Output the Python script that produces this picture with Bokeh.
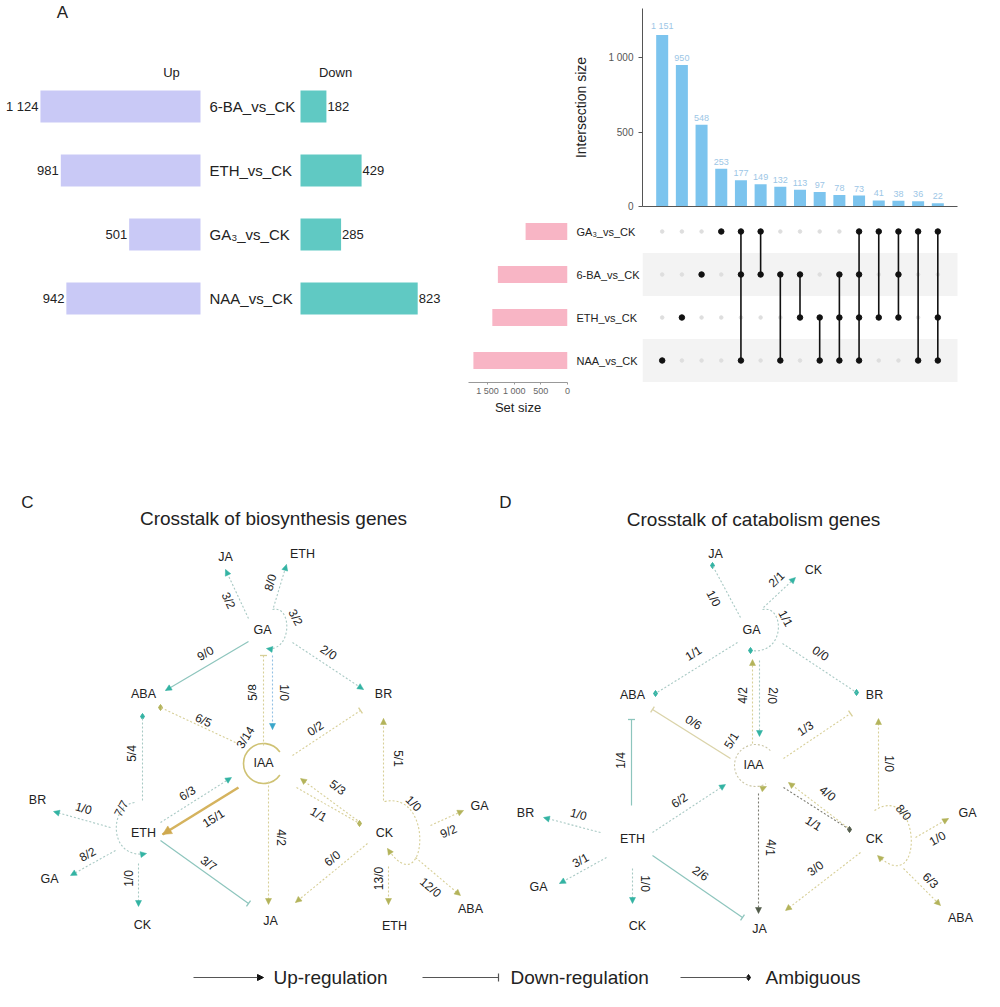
import math
from bokeh.plotting import figure
from bokeh.models import Range1d, FixedTicker, Label, Arrow, NormalHead, TeeHead, ColumnDataSource
from bokeh.layouts import row, column
from bokeh.embed import file_html
from bokeh.resources import INLINE
from bokeh.core.properties import value

FONT = "Liberation Sans"

# ---------------- Panel A data ----------------
comparisons = ["6-BA_vs_CK", "ETH_vs_CK", "GA\u2083_vs_CK", "NAA_vs_CK"]
up_counts = [1124, 981, 501, 942]
down_counts = [182, 429, 285, 823]

# ---------------- Panel B data ----------------
intersection_sizes = [1151, 950, 548, 253, 177, 149, 132, 113, 97, 78, 73, 41, 38, 36, 22]
set_names = ["GA\u2083_vs_CK", "6-BA_vs_CK", "ETH_vs_CK", "NAA_vs_CK"]
set_sizes = [786, 1306, 1410, 1765]
# membership of each intersection (indices into set_names)
intersection_members = [[3], [2], [1], [0], [0, 1, 3], [0, 1], [1, 3], [1, 2], [2, 3],
                        [1, 2, 3], [0, 1, 2, 3], [0, 2], [0, 1, 2], [0, 3], [0, 2, 3]]
isize_ticks = [0, 500, 1000]
setsize_ticks = [0, 500, 1000, 1500]


def fmt(v):
    return f"{v:,}".replace(",", " ")


def base_fig(**kw):
    p = figure(toolbar_location=None, output_backend="svg", **kw)
    p.outline_line_color = None
    p.grid.visible = False
    return p


TXT = dict(text_font=value(FONT), text_color="#222222")

# ================= Panel A =================
PXA = 0.1424
pA = base_fig(width=460, height=430, x_range=Range1d(-200 / PXA, 260 / PXA),
              y_range=Range1d((430 - 106) / 64, (0 - 106) / 64),
              x_axis_location=None, y_axis_location=None, min_border=0)
pA.extra_x_ranges = {"down": Range1d(-300 / PXA, 160 / PXA)}
srcA = ColumnDataSource(dict(
    y=list(range(len(comparisons))),
    up_left=[-v for v in up_counts],
    down=down_counts,
    up_txt=[fmt(v) for v in up_counts],
    down_txt=[fmt(v) for v in down_counts],
    name=comparisons))
pA.hbar(y="y", left="up_left", right=0, height=0.5, source=srcA,
        fill_color="#c9c9f6", line_color=None)
pA.hbar(y="y", left=0, right="down", height=0.5, source=srcA, x_range_name="down",
        fill_color="#60c9c3", line_color=None)
pA.text(x="up_left", y="y", text="up_txt", source=srcA, x_offset=-2, text_align="right",
        text_baseline="middle", text_font_size="13px", **TXT)
pA.text(x="down", y="y", text="down_txt", source=srcA, x_range_name="down", x_offset=1,
        text_align="left", text_baseline="middle", text_font_size="13px", **TXT)
pA.text(x=0, y="y", text="name", source=srcA, x_offset=9, text_align="left",
        text_baseline="middle", text_font_size="15px", **TXT)
for t, sx, sy, fs in [("A", 62, 418, "17px"), ("Up", 171, 358, "13px"), ("Down", 335, 358, "13px")]:
    pA.add_layout(Label(x=sx, y=sy, x_units="screen", y_units="screen", text=t,
                        text_font=FONT, text_font_size=fs, text_color="#222222",
                        text_align="center", text_baseline="middle"))

# ================= Panel B: intersection bars =================
cols = list(range(1, len(intersection_sizes) + 1))
pBt = base_fig(width=532, height=214, x_range=Range1d(0, len(cols) + 1), y_range=Range1d(0, 1329),
               min_border_left=182, min_border_right=35, min_border_top=8, min_border_bottom=8)
pBt.vbar(x=cols, top=intersection_sizes, width=0.61, fill_color="#7cc4ee", line_color=None)
pBt.text(x=cols, y=intersection_sizes, text=[fmt(v) for v in intersection_sizes], y_offset=-4,
         text_align="center", text_baseline="bottom", text_font_size="9px",
         text_font=value(FONT), text_color="#9cc6e6")
ya = pBt.yaxis[0]
ya.ticker = FixedTicker(ticks=isize_ticks)
ya.major_label_overrides = {t: fmt(t) for t in isize_ticks}
ya.minor_tick_line_color = None
ya.major_tick_out = 4
ya.major_tick_in = 0
ya.major_label_standoff = 5
ya.major_label_text_font = FONT
ya.major_label_text_font_size = "10px"
ya.major_label_text_color = "#555555"
ya.axis_line_color = "#555555"
ya.major_tick_line_color = "#555555"
ya.axis_label = "Intersection size"
ya.axis_label_text_font = FONT
ya.axis_label_text_font_style = "normal"
ya.axis_label_text_font_size = "14px"
ya.axis_label_text_color = "#222222"
ya.axis_label_standoff = 16
xa = pBt.xaxis[0]
xa.ticker = FixedTicker(ticks=[])
xa.major_tick_out = 0
xa.major_tick_in = 0
xa.minor_tick_line_color = None
xa.major_label_standoff = 0
xa.axis_line_color = "#555555"
pBt.add_layout(Label(x=-154, y=194, x_units="screen", y_units="screen", text="B",
                     text_font=FONT, text_font_size="17px", text_color="#222222",
                     text_align="center", text_baseline="middle"))

# ================= Panel B: set sizes =================
rowsB = list(range(len(set_names)))
yr_top, yr_bot = (214 - 231) / 43, (382 - 231) / 43
pBs = base_fig(width=182, height=216, x_range=Range1d(1857, 0), y_range=Range1d(yr_bot, yr_top),
               x_axis_location="below", y_axis_location="right",
               min_border_left=8, min_border_right=70, min_border_top=0, min_border_bottom=48)
pBs.hbar(y=rowsB, left=0, right=set_sizes, height=0.4, fill_color="#f8b5c5", line_color=None)
sa = pBs.xaxis[0]
sa.ticker = FixedTicker(ticks=setsize_ticks)
sa.major_label_overrides = {t: fmt(t) for t in setsize_ticks}
sa.minor_tick_line_color = None
sa.major_tick_out = 2
sa.major_tick_in = 0
sa.major_label_standoff = 1
sa.major_label_text_font = FONT
sa.major_label_text_font_size = "9px"
sa.major_label_text_color = "#666666"
sa.axis_line_color = "#999999"
sa.major_tick_line_color = "#999999"
sa.axis_label = "Set size"
sa.axis_label_text_font = FONT
sa.axis_label_text_font_style = "normal"
sa.axis_label_text_font_size = "13px"
sa.axis_label_text_color = "#222222"
sa.axis_label_standoff = 1
ra = pBs.yaxis[0]
ra.ticker = FixedTicker(ticks=rowsB)
ra.major_label_overrides = {i: n for i, n in enumerate(set_names)}
ra.axis_line_color = None
ra.major_tick_line_color = None
ra.minor_tick_line_color = None
ra.major_label_standoff = 3
ra.major_label_text_font = FONT
ra.major_label_text_font_size = "11px"
ra.major_label_text_color = "#222222"

# ================= Panel B: matrix =================
pBm = base_fig(width=350, height=216, x_range=Range1d(0, 350 / (315 / 16)),
               y_range=Range1d(yr_bot, yr_top), x_axis_location=None, y_axis_location=None,
               min_border_left=0, min_border_right=0, min_border_top=0, min_border_bottom=48)
pBm.hbar(y=[r for r in rowsB if r % 2 == 1], left=0, right=len(cols) + 1, height=1.0,
         fill_color="#f3f3f3", line_color=None)
pBm.scatter(x=[c for c in cols for r in rowsB], y=[r for c in cols for r in rowsB],
            size=3.5, color="#dedede")
mx, my, s_x, s_y0, s_y1 = [], [], [], [], []
for c, mem in zip(cols, intersection_members):
    for r in mem:
        mx.append(c)
        my.append(r)
    if len(mem) > 1:
        s_x.append(c)
        s_y0.append(min(mem))
        s_y1.append(max(mem))
pBm.segment(x0=s_x, y0=s_y0, x1=s_x, y1=s_y1, line_color="#111111", line_width=1.6)
pBm.scatter(x=mx, y=my, size=5.5, color="#111111")

# ================= Panels C & D: crosstalk networks =================
def Y(y):
    return 1007 - y


pN = base_fig(width=992, height=569, x_range=Range1d(0, 992), y_range=Range1d(8, 577),
              x_axis_location=None, y_axis_location=None, min_border=0)

STY = {
    "teal_dot": ("#a8c9c4", "#33b3a3", "2 2", 1.1),
    "teal_solid": ("#8dc5bd", "#33b3a3", "solid", 1.2),
    "tan_dot": ("#d7cf97", "#b3b35a", "2 2", 1.1),
    "tan_solid": ("#dad3a8", "#b3b35a", "solid", 1.3),
    "gold_thick": ("#d5b35e", "#cfa94f", "solid", 2.6),
    "blue_dot": ("#93c1e4", "#3aa6ca", "2 2", 1.1),
    "dark_dot": ("#7c7c72", "#515b49", "2 2", 1.1),
}

# regulation counts "up/down" on each edge (label text), endpoints are diagram layout
edges_C = [
    (248, 618, 225, 569, "arrow", "teal_dot", "3/2", 228, 600),
    (273, 607, 286, 564, "arrow", "teal_dot", "8/0", 270, 582),
    (248, 641, 165, 690, "arrow", "teal_solid", "9/0", 205, 653),
    (292, 642, 363, 689, "arrow", "teal_dot", "2/0", 328, 652),
    (263, 745, 263, 655, "tee", "tan_dot", "5/8", 252, 692),
    (272, 655, 272, 729, "arrow", "blue_dot", "1/0", 283, 692),
    (235, 742, 160, 707, "amb", "tan_dot", "6/5", 203, 720),
    (292, 755, 360, 710, "tee", "tan_dot", "0/2", 315, 728),
    (383, 800, 383, 718, "arrow", "tan_dot", "5/1", 397, 758),
    (142, 800, 142, 716, "amb", "teal_dot", "5/4", 131, 753),
    (110, 827, 53, 811, "arrow", "teal_dot", "1/0", 83, 808),
    (115, 850, 70, 875, "arrow", "teal_dot", "8/2", 87, 854),
    (138, 863, 138, 906, "arrow", "teal_dot", "1/0", 128, 878),
    (160, 822, 231, 777, "arrow", "teal_dot", "6/3", 187, 793),
    (238, 787, 162, 834, "arrow", "gold_thick", "15/1", 213, 818),
    (160, 840, 248, 903, "tee", "teal_solid", "3/7", 208, 863),
    (268, 781, 268, 904, "arrow", "tan_dot", "4/2", 280, 837),
    (357, 820, 300, 778, "arrow", "tan_dot", "5/3", 337, 787),
    (296, 787, 359, 823, "amb", "tan_dot", "1/1", 318, 814),
    (367, 843, 295, 902, "arrow", "tan_dot", "6/0", 332, 858),
    (430, 825, 463, 810, "arrow", "tan_dot", "9/2", 448, 831),
    (388, 866, 388, 904, "arrow", "tan_dot", "13/0", 378, 878),
    (415, 857, 460, 895, "arrow", "tan_dot", "12/0", 430, 887),
]
loops_C = [
    (272, 609, 292, 604, 292, 652, 266, 648, "arrow", "teal_dot", "3/2", 295, 617, -62),
    (134, 802, 108, 805, 108, 860, 146, 853, "arrow", "teal_dot", "7/7", 121, 808, 62),
    (384, 801, 436, 790, 425, 905, 387, 848, "arrow", "tan_dot", "1/0", 413, 803, -45),
]
nodes_C = [("GA", 262, 629), ("JA", 225, 556), ("ETH", 302, 553), ("ABA", 143, 693),
           ("BR", 383, 693), ("IAA", 263, 762), ("ETH", 143, 832), ("BR", 37, 799),
           ("GA", 49, 878), ("CK", 142, 924), ("JA", 270, 920), ("CK", 384, 832),
           ("GA", 479, 805), ("ETH", 394, 925), ("ABA", 470, 908)]

edges_D = [
    (740, 617, 712, 565, "amb", "teal_dot", "1/0", 713, 598),
    (763, 607, 795, 577, "arrow", "teal_dot", "2/1", 776, 579),
    (737, 642, 655, 693, "amb", "teal_dot", "1/1", 693, 653),
    (782, 643, 856, 692, "amb", "teal_dot", "0/0", 820, 653),
    (752, 743, 752, 659, "arrow", "tan_dot", "4/2", 742, 695),
    (759, 660, 759, 736, "arrow", "teal_dot", "2/0", 772, 695),
    (730, 758, 652, 709, "tee", "tan_solid", "0/6", 693, 722),
    (783, 758, 850, 713, "tee", "tan_dot", "1/3", 805, 728),
    (878, 805, 878, 718, "arrow", "tan_dot", "1/0", 888, 763),
    (631, 805, 631, 719, "tee", "teal_solid", "1/4", 620, 760),
    (600, 832, 543, 817, "arrow", "teal_dot", "1/0", 578, 814),
    (606, 857, 559, 883, "arrow", "teal_dot", "3/1", 580, 860),
    (632, 868, 632, 903, "arrow", "teal_dot", "1/0", 644, 883),
    (652, 832, 725, 784, "arrow", "teal_dot", "6/2", 679, 800),
    (652, 855, 742, 917, "tee", "teal_solid", "2/6", 700, 873),
    (758, 793, 758, 913, "arrow", "dark_dot", "4/1", 770, 847),
    (847, 827, 788, 782, "arrow", "tan_dot", "4/0", 827, 793),
    (783, 787, 849, 829, "amb", "dark_dot", "1/1", 813, 823),
    (860, 852, 785, 910, "arrow", "tan_dot", "3/0", 815, 868),
    (915, 837, 948, 818, "arrow", "tan_dot", "1/0", 937, 838),
    (903, 868, 940, 905, "arrow", "tan_dot", "6/3", 930, 880),
]
loops_D = [
    (762, 609, 784, 604, 786, 655, 750, 650, "amb", "teal_dot", "1/1", 785, 618, -62),
    (874, 810, 920, 780, 925, 900, 877, 855, "arrow", "tan_dot", "8/0", 903, 812, -50),
]
nodes_D = [("GA", 751, 629), ("JA", 715, 553), ("CK", 813, 569), ("ABA", 632, 694),
           ("BR", 874, 694), ("IAA", 753, 764), ("ETH", 632, 838), ("BR", 525, 812),
           ("GA", 538, 886), ("CK", 637, 925), ("JA", 759, 928), ("CK", 874, 838),
           ("GA", 967, 812), ("ABA", 960, 917)]

lab_x, lab_y, lab_t, lab_a = [], [], [], []


def add_end(kind, sx, sy, ex, ey, lc, hc, width, line=True):
    if kind == "arrow":
        head = NormalHead(size=9 if width > 2 else 6, fill_color=hc, line_color=hc, line_width=0.5)
    elif kind == "tee":
        head = TeeHead(size=7, line_color=lc, line_width=1.3)
    else:
        head = None
    pN.add_layout(Arrow(x_start=sx, y_start=Y(sy), x_end=ex, y_end=Y(ey), end=head,
                        line_color=lc if line else None, line_width=width,
                        line_dash="solid"))
    if kind == "amb":
        pN.scatter(x=[ex], y=[Y(ey)], marker="diamond", size=6, color=hc)


def edge_angle(x1, y1, x2, y2, lx):
    dx, dy = x2 - x1, Y(y2) - Y(y1)
    if abs(dx) < 1.5:
        return 90.0 if lx < x1 else -90.0
    a = math.degrees(math.atan2(dy, dx))
    while a > 90:
        a -= 180
    while a <= -90:
        a += 180
    return a


for edges in (edges_C, edges_D):
    for (x1, y1, x2, y2, kind, sty, lab, lx, ly) in edges:
        lc, hc, dash, w = STY[sty]
        pN.add_layout(Arrow(x_start=x1, y_start=Y(y1), x_end=x2, y_end=Y(y2), end=None,
                            line_color=lc, line_width=w, line_dash=dash))
        add_end(kind, x1, y1, x2, y2, lc, hc, w, line=False)
        lab_x.append(lx)
        lab_y.append(Y(ly))
        lab_t.append(lab)
        lab_a.append(math.radians(edge_angle(x1, y1, x2, y2, lx)))

for loops in (loops_C, loops_D):
    for (x0, y0, c0x, c0y, c1x, c1y, x1, y1, kind, sty, lab, lx, ly, ang) in loops:
        lc, hc, dash, w = STY[sty]
        pN.bezier(x0=[x0], y0=[Y(y0)], x1=[x1], y1=[Y(y1)], cx0=[c0x], cy0=[Y(c0y)],
                  cx1=[c1x], cy1=[Y(c1y)], line_color=lc, line_width=w, line_dash=dash)
        add_end(kind, c1x, c1y, x1, y1, lc, hc, w, line=False)
        lab_x.append(lx)
        lab_y.append(Y(ly))
        lab_t.append(lab)
        lab_a.append(math.radians(ang))

# IAA self-loops
pN.arc(x=[263], y=[Y(763)], radius=20, start_angle=math.radians(35), end_angle=math.radians(325),
       direction="anticlock", line_color="#cfc274", line_width=1.6)
lab_x.append(245); lab_y.append(Y(737)); lab_t.append("3/14"); lab_a.append(math.radians(58))
pN.arc(x=[755], y=[Y(765)], radius=21, start_angle=math.radians(45), end_angle=math.radians(300),
       direction="anticlock", line_color="#cbc6a6", line_width=1.1, line_dash="2 2")
add_end("arrow", 757, 790, 766, 786, "#cbc6a6", "#b3b35a", 1.1, line=False)
lab_x.append(731); lab_y.append(Y(740)); lab_t.append("5/1"); lab_a.append(math.radians(58))

pN.text(x=lab_x, y=lab_y, text=lab_t, angle=lab_a, text_align="center", text_baseline="middle",
        text_font_size="12px", **TXT)

nodes = nodes_C + nodes_D
pN.text(x=[n[1] for n in nodes], y=[Y(n[2]) for n in nodes], text=[n[0] for n in nodes],
        text_align="center", text_baseline="middle", text_font_size="12.5px", **TXT)

# titles & panel letters
pN.text(x=[273, 753], y=[Y(518), Y(519)],
        text=["Crosstalk of biosynthesis genes", "Crosstalk of catabolism genes"],
        text_align="center", text_baseline="middle", text_font_size="19px", **TXT)
pN.text(x=[27, 505], y=[Y(502), Y(502)], text=["C", "D"], text_align="center",
        text_baseline="middle", text_font_size="17px", **TXT)

# legend
LEG_Y = 977
pN.add_layout(Arrow(x_start=193, y_start=Y(LEG_Y), x_end=263, y_end=Y(LEG_Y),
                    end=NormalHead(size=6, fill_color="#111111", line_color="#111111"),
                    line_color="#555555", line_width=1))
pN.add_layout(Arrow(x_start=422, y_start=Y(LEG_Y), x_end=498, y_end=Y(LEG_Y),
                    end=TeeHead(size=8, line_color="#555555", line_width=1.2),
                    line_color="#555555", line_width=1))
pN.add_layout(Arrow(x_start=680, y_start=Y(LEG_Y), x_end=748, y_end=Y(LEG_Y), end=None,
                    line_color="#555555", line_width=1))
pN.scatter(x=[748], y=[Y(LEG_Y)], marker="diamond", size=6, color="#111111")
pN.text(x=[273, 510, 765], y=[Y(LEG_Y)] * 3, text=["Up-regulation", "Down-regulation", "Ambiguous"],
        text_align="left", text_baseline="middle", text_font_size="19px", **TXT)

layout = column(row(pA, column(pBt, row(pBs, pBm))), pN)
open("out.html", "w").write(file_html(layout, INLINE))
